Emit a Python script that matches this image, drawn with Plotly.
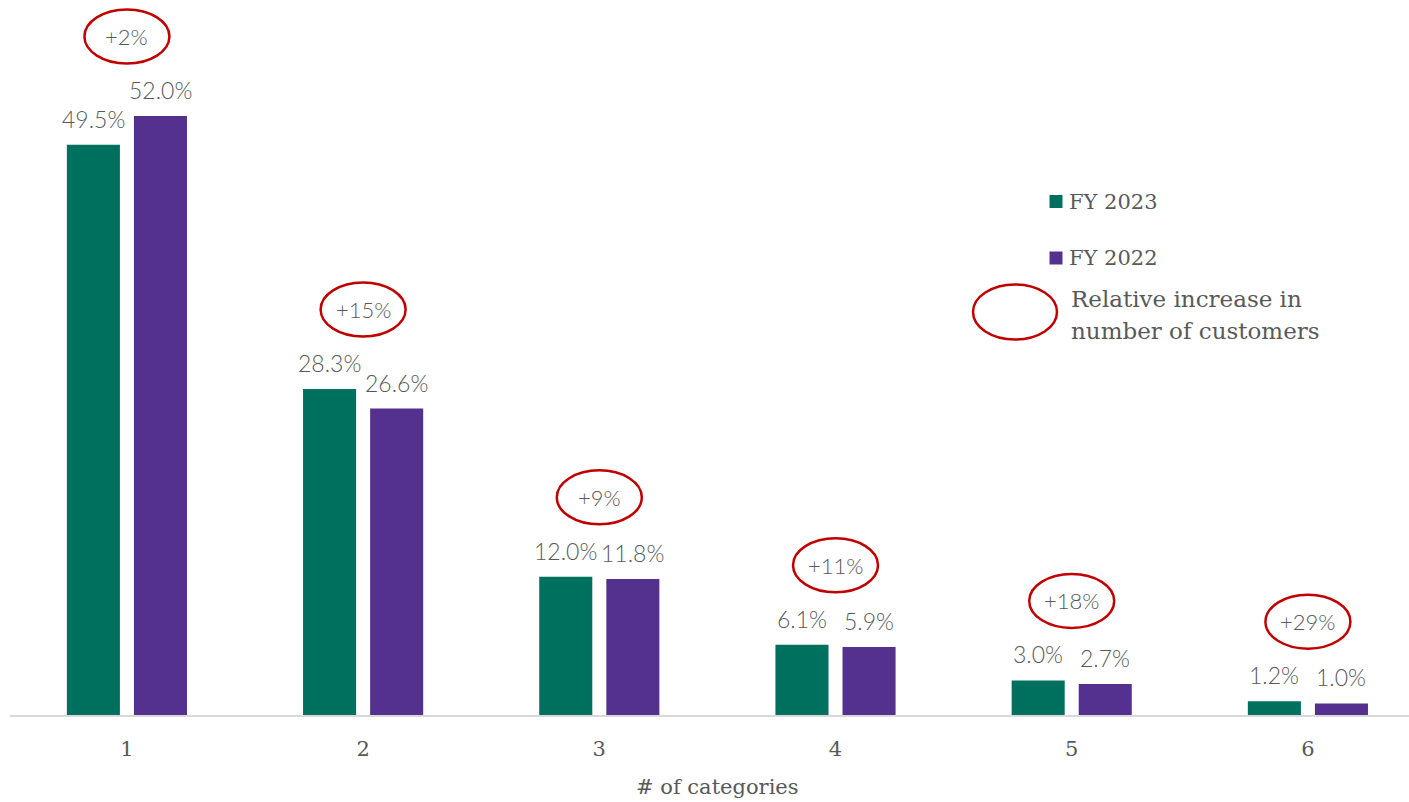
import plotly.graph_objects as go

# Share of customers by number of categories purchased
categories = [1, 2, 3, 4, 5, 6]
tick_labels = ["1", "2", "3", "4", "5", "6"]
fy2023 = [49.5, 28.3, 12.0, 6.1, 3.0, 1.2]
fy2022 = [52.0, 26.6, 11.8, 5.9, 2.7, 1.0]
increase = ["+2%", "+15%", "+9%", "+11%", "+18%", "+29%"]

TEAL = "#00705E"
PURPLE = "#55318F"
RED = "#C00000"
GREY = "#595959"
SLAB = "DejaVu Serif"
SANS = "Lato"

BARGAP = 0.432
BARGROUPGAP = 0.209
slot = (1 - BARGAP) / 2          # width of each series slot in data units
offsets = [-slot / 2, slot / 2]  # centre of each series within a group

fig = go.Figure()
fig.add_bar(x=categories, y=fy2023, name="FY 2023", marker_color=TEAL,
            marker_line_width=0, showlegend=False)
fig.add_bar(x=categories, y=fy2022, name="FY 2022", marker_color=PURPLE,
            marker_line_width=0, showlegend=False)

annotations = []
shapes = []

# value labels above each bar
for series, off in ((fy2023, offsets[0]), (fy2022, offsets[1])):
    for c, v in zip(categories, series):
        annotations.append(dict(
            x=c + off, y=v, xref="x", yref="y", text=f"{v:.1f}%",
            showarrow=False, yanchor="bottom", yshift=10,
            font=dict(family=SANS, size=23, color=GREY, weight=300)))

# circled relative increase above each group
for c, a, b, txt in zip(categories, fy2023, fy2022, increase):
    top = max(a, b) + 6.9
    shapes.append(dict(
        type="circle", xref="x", yref="y",
        xsizemode="pixel", ysizemode="pixel",
        xanchor=c, yanchor=top, x0=-42.5, x1=42.5, y0=-27, y1=27,
        line=dict(color=RED, width=2.5), fillcolor="rgba(0,0,0,0)"))
    annotations.append(dict(
        x=c, y=top, xref="x", yref="y", text=txt, showarrow=False,
        xanchor="center", yanchor="middle",
        font=dict(family=SANS, size=22, color=GREY, weight=300)))

# plot area geometry in pixels, used to place the key
L, W, H = 10, 1399, 715


def px(xp):
    return (xp - L) / W


def py(yp):
    return (H - yp) / H


# key: series swatches
for colour, label, yc in ((TEAL, "FY 2023", 201.5), (PURPLE, "FY 2022", 258)):
    shapes.append(dict(
        type="rect", xref="paper", yref="paper",
        xsizemode="pixel", ysizemode="pixel",
        xanchor=px(1056), yanchor=py(yc), x0=-6.5, x1=6.5, y0=-6.5, y1=6.5,
        fillcolor=colour, line=dict(width=0)))
    annotations.append(dict(
        x=px(1067), y=py(yc), xref="paper", yref="paper", text=label,
        showarrow=False, xanchor="left", yanchor="middle",
        font=dict(family=SLAB, size=21, color=GREY)))

# key: ellipse meaning
shapes.append(dict(
    type="circle", xref="paper", yref="paper",
    xsizemode="pixel", ysizemode="pixel",
    xanchor=px(1015), yanchor=py(312), x0=-42, x1=42, y0=-27.5, y1=27.5,
    line=dict(color=RED, width=2.5), fillcolor="rgba(0,0,0,0)"))
for line_text, yc in (("Relative increase in", 299), ("number of customers", 331)):
    annotations.append(dict(
        x=px(1069), y=py(yc), xref="paper", yref="paper",
        text=line_text, showarrow=False, xanchor="left", yanchor="middle",
        font=dict(family=SLAB, size=23, color=GREY)))

# axis title
annotations.append(dict(
    x=px(717.5), y=py(787), xref="paper", yref="paper",
    text="# of categories", showarrow=False,
    xanchor="center", yanchor="middle",
    font=dict(family=SLAB, size=21, color=GREY)))

fig.update_layout(
    width=1409, height=802,
    margin=dict(l=L, r=0, t=0, b=802 - H),
    paper_bgcolor="white", plot_bgcolor="white",
    barmode="group", bargap=BARGAP, bargroupgap=BARGROUPGAP,
    showlegend=False,
    annotations=annotations, shapes=shapes,
    xaxis=dict(
        range=[0.505, 6.428], tickmode="array", tickvals=categories,
        ticktext=tick_labels, showgrid=False, zeroline=False,
        showline=True, linecolor="#D9D9D9", linewidth=2, ticks="",
        ticklabelstandoff=14,
        tickfont=dict(family=SLAB, size=21, color=GREY)),
    yaxis=dict(range=[0, 62.07], visible=False, showgrid=False,
               zeroline=False),
)

fig.write_html("out.html")
